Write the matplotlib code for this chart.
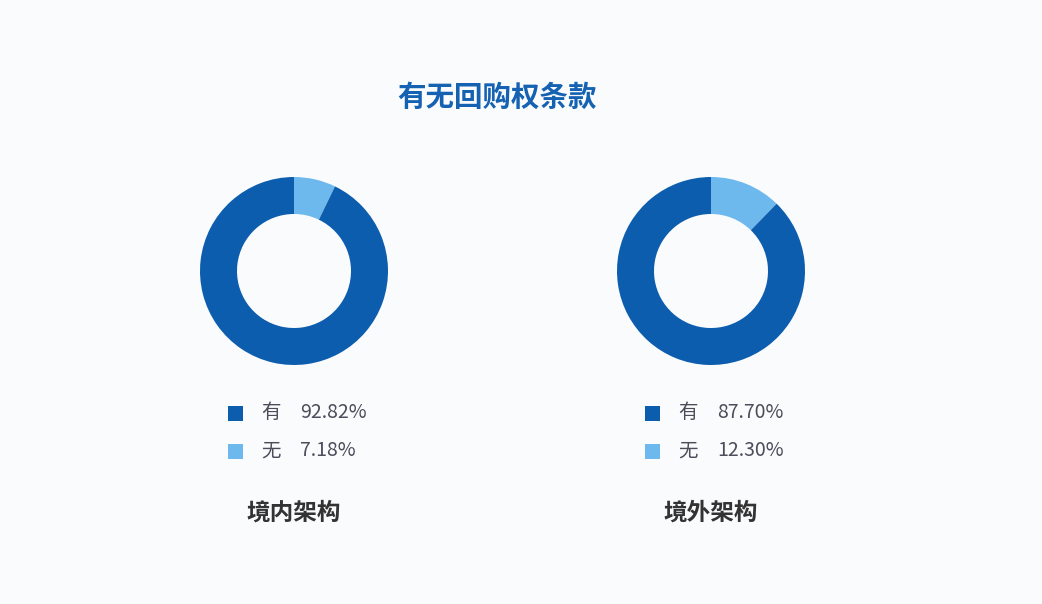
import matplotlib.pyplot as plt
from matplotlib.patches import Rectangle

plt.rcParams['font.family'] = ['Noto Sans CJK SC', 'DejaVu Sans']

title = "有无回购权条款"
groups = ["境内架构", "境外架构"]
labels = ["有", "无"]
values_in = [92.82, 7.18]
values_out = [87.70, 12.30]
all_values = [values_in, values_out]

dark = "#0C5DAE"
light = "#6DB9EE"
colors = [dark, light]

W, H = 1042, 604
fig = plt.figure(figsize=(W / 100, H / 100), dpi=100)
fig.patch.set_facecolor("#FAFBFD")

fig.text(497 / W, 1 - 98 / H, title, ha="center", va="center",
         fontsize=20.5, fontweight="bold", color="#1662B2")

centers = [294, 711]
r_out = 94
for cx, vals, name in zip(centers, all_values, groups):
    ax = fig.add_axes([(cx - r_out) / W, 1 - (271 + r_out) / H, 2 * r_out / W, 2 * r_out / H])
    # 无 first so the small wedge sits just right of 12 o'clock
    ax.pie(vals[::-1], colors=colors[::-1], startangle=90, counterclock=False,
           wedgeprops=dict(width=37 / 94, edgecolor="none"), radius=1)
    ax.set_aspect("equal")
    ax.set_xlim(-1, 1)
    ax.set_ylim(-1, 1)
    ax.axis("off")

    # legend rows
    for i, (lab, v) in enumerate(zip(labels, vals)):
        y = 413 + i * 38
        sq = 15
        fig.patches.append(Rectangle(((cx - 66) / W, 1 - (y + sq / 2) / H), sq / W, sq / H,
                                     transform=fig.transFigure, facecolor=colors[i],
                                     edgecolor="none"))
        fig.text((cx - 23) / W, 1 - y / H, lab, ha="center", va="center",
                 fontsize=14, color="#4E4B5A")
        fig.text((cx + 6) / W, 1 - y / H, f"{v:.2f}%", ha="left", va="center",
                 fontsize=14, color="#4E4B5A")

    fig.text(cx / W, 1 - 513 / H, name, ha="center", va="center",
             fontsize=17, fontweight="bold", color="#333333")

fig.savefig("out.png", dpi=100, facecolor=fig.get_facecolor())
